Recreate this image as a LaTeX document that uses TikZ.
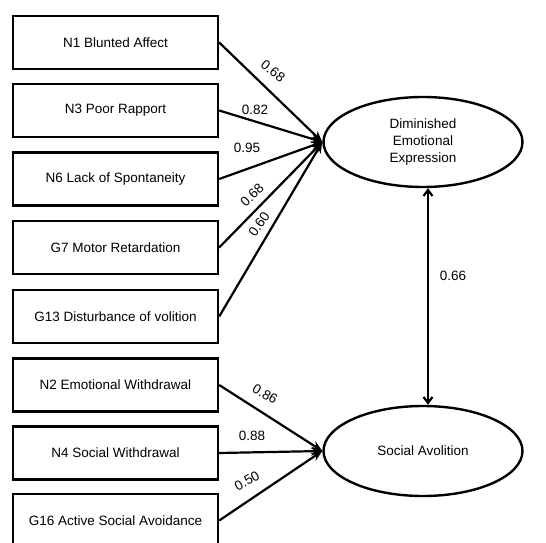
\documentclass[tikz,border=0pt]{standalone}
\usepackage{fontspec}
\setmainfont{Liberation Sans}
\usetikzlibrary{shapes.geometric,arrows.meta}
\begin{document}
\begin{tikzpicture}[x={(1pt,0)},y={(0,-1pt)},
  every node/.style={font=\fontsize{13.5}{17}\selectfont},
  itembox/.style={draw,line width=2.4pt,minimum width=205pt,minimum height=53pt,inner sep=0pt},
  latent/.style={draw,ellipse,line width=2.4pt,minimum width=199pt,minimum height=90pt,inner sep=0pt,align=center},
  load/.style={line width=2.2pt,-{Stealth[length=11pt,width=9pt]}},
  corr/.style={line width=2.2pt,{Straight Barb[length=6pt,width=9pt]}-{Straight Barb[length=6pt,width=9pt]}},
  coef/.style={inner sep=0pt}]
\clip (0,0) rectangle (546,543);
\fill[white] (0,0) rectangle (546,543);
\node[itembox] (n1) at (115.5,42.5) {N1 Blunted Affect};
\node[itembox] (n3) at (115.5,110.5) {N3 Poor Rapport};
\node[itembox] (n6) at (115.5,179) {N6 Lack of Spontaneity};
\node[itembox] (g7) at (115.5,247.5) {G7 Motor Retardation};
\node[itembox] (g13) at (115.5,316.5) {G13 Disturbance of volition};
\node[itembox] (n2) at (115.5,385) {N2 Emotional Withdrawal};
\node[itembox] (n4) at (115.5,453) {N4 Social Withdrawal};
\node[itembox] (g16) at (115.5,520.5) {G16 Active Social Avoidance};
\node[latent] (dee) at (423,142) {Diminished\\Emotional\\Expression};
\node[latent] (sa) at (423,451) {Social Avolition};
\foreach \s in {n1,n3,n6,g7,g13} \draw[load] (\s.east) -- (dee.west);
\foreach \s in {n2,n4,g16} \draw[load] (\s.east) -- (sa.west);
\draw[corr] ([xshift=5pt]dee.south) -- ([xshift=5pt]sa.north);
\node[coef,rotate=-38] (l1) at (273,71) {0.68};
\node[coef] (l2) at (255,110) {0.82};
\node[coef] (l3) at (247,148) {0.95};
\node[coef,rotate=45] (l4) at (252,195) {0.68};
\node[coef,rotate=55] (l5) at (259,224) {0.60};
\node[coef,rotate=-30] (l6) at (265,394) {0.86};
\node[coef] (l7) at (252,436) {0.88};
\node[coef,rotate=30] (l8) at (247,481) {0.50};
\node[coef] (l9) at (453,276) {0.66};
\end{tikzpicture}
\end{document}
